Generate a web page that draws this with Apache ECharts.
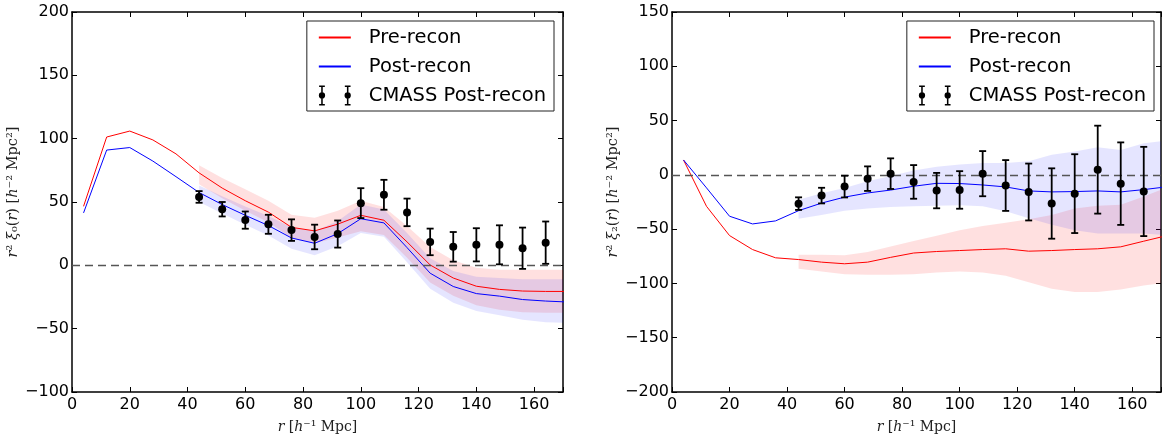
<!DOCTYPE html>
<html><head><meta charset="utf-8">
<script src="https://cdn.jsdelivr.net/npm/echarts@6/dist/echarts.min.js"></script>
<style>html,body{margin:0;padding:0;background:#fff}#c{width:1164px;height:439px}</style>
</head><body><div id="c"></div>
<script>
// ---------- data ----------
const rModel = [4,12,20,28,36,44,52,60,68,76,84,92,100,108,116,124,132,140,148,156,164,172];
const xi0Pre  = [46.6,101.3,106,99,88,73,61,51,42,30,27.2,32.5,39.5,35.6,18.5,0.3,-10,-16.5,-19,-20.3,-20.6,-20.6];
const xi0Post = [41.4,91,93,82.3,70,57.5,48,39.5,31.4,21.6,17.4,25,36.8,33.5,14,-6.2,-16.7,-22.3,-24.3,-27,-28.2,-29];
const xi2Pre  = [13.7,-29,-55.9,-68.8,-76.4,-78,-80.4,-81.9,-80.4,-76,-72,-70.6,-69.7,-68.8,-68.1,-70.3,-69.7,-68.8,-68.1,-66.3,-61.1,-56];
const xi2Post = [13.7,-12,-38.1,-45.2,-42.4,-33,-26,-20.5,-16.7,-14,-10.5,-7.8,-8,-9.3,-11.1,-14.8,-15.7,-15.4,-14.8,-15.7,-13.6,-11];

const rBand = [44,52,60,68,76,84,92,100,108,116,124,132,140,148,156,164,172];
const xi0PreHi  = [79,69,60,51,40,37.5,43,51,46,31,14.5,4,-2,-3.5,-3.5,-3.5,-3.5];
const xi0PreLo  = [64,53,43,34,21.5,17.5,22,27,24,6,-13.5,-24,-31.5,-35,-37,-37.5,-37.5];
const xi0PostHi = [63,54.5,46.5,39,30,27,35,48,44,25.5,5.5,-4.5,-9,-10,-11,-11,-11];
const xi0PostLo = [50,41,32,23.5,13,8,15,25.5,22.5,2.5,-18.5,-29.5,-36,-39.5,-43,-45,-45.5];
const xi2PreHi  = [-73.5,-73.5,-74,-71,-66,-61,-56,-51,-47,-44,-41,-37,-31,-28.5,-27.5,-20,-11.5];
const xi2PreLo  = [-86.5,-89,-91.5,-92,-92,-91.5,-90,-89,-90,-93,-99,-105,-108,-108,-105.5,-102,-99];
const xi2PostHi = [-23,-17,-12,-6,-1,4,7.5,9.5,11,11,12.5,18.5,21.5,25.5,23,29,31.5];
const xi2PostLo = [-40.5,-37,-33,-31,-29.5,-29,-28.5,-28,-29,-33.5,-40,-46,-51,-54,-54,-54,-55.5];

const rData = [44,52,60,68,76,84,92,100,108,116,124,132,140,148,156,164];
const xi0Data = [54,44.3,35.7,32.4,27.8,22.4,24.7,49.1,55.7,41.8,18.5,14.6,16.2,16.2,13.5,17.9];
const xi0Err  = [4.6,5.7,6.8,7.5,8.5,9.7,10.7,11.8,11.8,10.9,10.5,11.7,13.1,15.4,16.3,16.7];
const xi2Data = [-26.5,-19.1,-10.8,-3.5,1.1,-6.5,-14.5,-13.9,1.1,-9.8,-15.8,-26.4,-17.3,4.8,-8.1,-15.3];
const xi2Err  = [5.8,7.2,10,11.3,14.1,15.5,16.3,17.3,20.8,23.4,26.2,32.4,36.3,40.5,38,41.1];

const X_MIN = 0, X_MAX = 170, X_STEP = 20;
const Y0_MIN = -100, Y0_MAX = 200, Y2_MIN = -200, Y2_MAX = 150, Y_STEP = 50;
const ZERO = 0;
const legendNames = ['Pre-recon','Post-recon','CMASS Post-recon'];

// ---------- helpers ----------
const RED = '#ff0000', BLUE = '#0000ff';
const fmtY = v => String(v).replace('-', '\u2212');
const fmtX = v => (v % X_STEP === 0 ? String(v) : '');
const nameStyle = (size, pad) => ({
  fontFamily:'DejaVu Serif', fontSize:size, color:'#222', align:'center', verticalAlign:'middle',
  padding: pad || 0,
  rich:{
    i:{fontFamily:'DejaVu Serif', fontStyle:'italic', fontSize:size, color:'#222'},
    n:{fontFamily:'DejaVu Serif', fontSize:size, color:'#222'}
  }
});

function xAx(grid, pos, showLabel, name) {
  return {
    type:'value', gridIndex:grid, position:pos, min:X_MIN, max:X_MAX, interval:X_STEP,
    axisLine:{show:true, onZero:false, lineStyle:{color:'#000', width:1.5}},
    axisTick:{show:true, inside:true, length:5, lineStyle:{color:'#000', width:1}},
    axisLabel:{show:showLabel, margin:5, fontSize:16, color:'#000', fontFamily:'DejaVu Sans', formatter:fmtX},
    splitLine:{show:false},
    name: name || '', nameLocation:'middle', nameGap:35,
    nameTextStyle:nameStyle(14)
  };
}
function yAx(grid, pos, showLabel, min, max, name, gap) {
  return {
    type:'value', gridIndex:grid, position:pos, min:min, max:max, interval:Y_STEP,
    axisLine:{show:true, onZero:false, lineStyle:{color:'#000', width:1.5}},
    axisTick:{show:true, inside:true, length:5, lineStyle:{color:'#000', width:1}},
    axisLabel:{show:showLabel, margin:3, fontSize:16, color:'#000', fontFamily:'DejaVu Sans', formatter:fmtY},
    splitLine:{show:false},
    name: name || '', nameLocation:'middle', nameGap:gap || 54, nameRotate:90,
    nameTextStyle:nameStyle(14.5, [0,0,0,20])
  };
}
function band(axIdx, id, lo, hi, color) {
  return {
    type:'custom', name:id, xAxisIndex:axIdx, yAxisIndex:axIdx, clip:true, silent:true, z:1,
    data: rBand.map((r,i)=>[r, lo[i], hi[i]]),
    encode:{x:0, y:[1,2]},
    renderItem(params, api) {
      if (params.dataIndex !== 0) return null;
      const pts = [];
      for (let i=0;i<rBand.length;i++) pts.push(api.coord([rBand[i], hi[i]]));
      for (let i=rBand.length-1;i>=0;i--) pts.push(api.coord([rBand[i], lo[i]]));
      return {type:'polygon', shape:{points:pts}, style:{fill:color}};
    }
  };
}
function line(axIdx, name, vals, color, withZero) {
  const s = {
    type:'line', name, xAxisIndex:axIdx, yAxisIndex:axIdx, clip:true, z:3,
    data: rModel.map((r,i)=>[r, vals[i]]),
    symbol:'none', showSymbol:false, animation:false,
    lineStyle:{color, width:1}, itemStyle:{color}
  };
  if (withZero) {
    s.markLine = {silent:true, symbol:['none','none'], label:{show:false}, animation:false,
      lineStyle:{type:[8,5], color:'#555', width:1.3}, data:[{yAxis:ZERO}]};
  }
  return s;
}
function errs(axIdx, vals, err) {
  return {
    type:'custom', name:'CMASS Post-recon', xAxisIndex:axIdx, yAxisIndex:axIdx, z:5,
    itemStyle:{color:'#000'},
    data: rData.map((r,i)=>[r, vals[i], err[i]]),
    encode:{x:0, y:1},
    renderItem(params, api) {
      const x = api.value(0), y = api.value(1), e = api.value(2);
      const t = api.coord([x, y+e]), b = api.coord([x, y-e]), c = api.coord([x, y]);
      const hw = 3.5, st = {stroke:'#000', lineWidth:1.8};
      return {type:'group', children:[
        {type:'line', shape:{x1:t[0], y1:t[1], x2:b[0], y2:b[1]}, style:st},
        {type:'line', shape:{x1:t[0]-hw, y1:t[1], x2:t[0]+hw, y2:t[1]}, style:st},
        {type:'line', shape:{x1:b[0]-hw, y1:b[1], x2:b[0]+hw, y2:b[1]}, style:st},
        {type:'circle', shape:{cx:c[0], cy:c[1], r:4}, style:{fill:'#000'}}
      ]};
    }
  };
}

const errIcon = 'path://M2.7,0h1.6v21h-1.6z M0.5,0h6v1.6h-6z M0.5,19.4h6v1.6h-6z M0.2,10.5a3.3,3.3 0 1,1 6.6,0a3.3,3.3 0 1,1 -6.6,0z ' +
  'M29.7,0h1.6v21h-1.6z M27.5,0h6v1.6h-6z M27.5,19.4h6v1.6h-6z M27.2,10.5a3.3,3.3 0 1,1 6.6,0a3.3,3.3 0 1,1 -6.6,0z';
const lineIcon = 'path://M0,0h30v2h-30z';

function legend(right) {
  return {
    orient:'vertical', right:right, top:21, itemWidth:32, itemHeight:21, itemGap:6,
    padding:[5,8,4,12], borderColor:'#222', borderWidth:1, backgroundColor:'#fff',
    selectedMode:false,
    textStyle:{fontFamily:'DejaVu Sans', fontSize:19.5, color:'#000', lineHeight:23, padding:[0,0,0,13]},
    data:[{name:legendNames[0], icon:lineIcon}, {name:legendNames[1], icon:lineIcon}, {name:legendNames[2], icon:errIcon}]
  };
}

const option = {
  animation:false,
  backgroundColor:'#fff',
  grid:[
    {left:72, top:12, width:491, height:381},
    {left:672, top:12, width:491, height:381}
  ],
  xAxis:[
    xAx(0,'bottom',true,'{i|r} [{i|h}\u207B\u00B9 Mpc]'),
    xAx(0,'top',false),
    xAx(1,'bottom',true,'{i|r} [{i|h}\u207B\u00B9 Mpc]'),
    xAx(1,'top',false)
  ],
  yAxis:[
    yAx(0,'left',true,Y0_MIN,Y0_MAX,'{i|r}\u00B2 {i|\u03BE}\u2080({i|r}) [{i|h}\u207B\u00B2 Mpc\u00B2]',54),
    yAx(0,'right',false,Y0_MIN,Y0_MAX),
    yAx(1,'left',true,Y2_MIN,Y2_MAX,'{i|r}\u00B2 {i|\u03BE}\u2082({i|r}) [{i|h}\u207B\u00B2 Mpc\u00B2]',50),
    yAx(1,'right',false,Y2_MIN,Y2_MAX)
  ],
  legend:[legend(610), legend(10)],
  series:[
    band(0,'band0pre',xi0PreLo,xi0PreHi,'rgba(255,0,0,0.12)'),
    band(0,'band0post',xi0PostLo,xi0PostHi,'rgba(0,0,255,0.1)'),
    line(0,'Pre-recon',xi0Pre,RED,true),
    line(0,'Post-recon',xi0Post,BLUE,false),
    errs(0,xi0Data,xi0Err),
    band(2,'band2pre',xi2PreLo,xi2PreHi,'rgba(255,0,0,0.12)'),
    band(2,'band2post',xi2PostLo,xi2PostHi,'rgba(0,0,255,0.1)'),
    line(2,'Pre-recon',xi2Pre,RED,true),
    line(2,'Post-recon',xi2Post,BLUE,false),
    errs(2,xi2Data,xi2Err)
  ]
};
const chart = echarts.init(document.getElementById('c'), null, {renderer:'canvas'});
chart.setOption(option);
</script>
</body></html>
